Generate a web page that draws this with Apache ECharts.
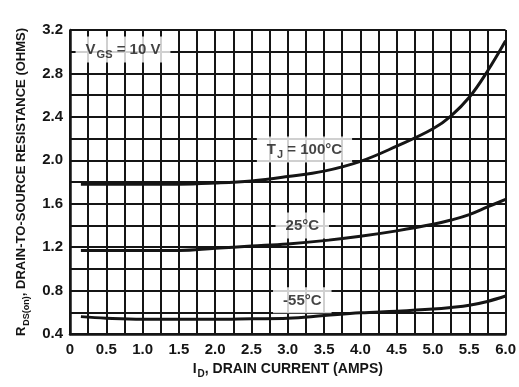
<!DOCTYPE html>
<html>
<head>
<meta charset="utf-8">
<script src="https://cdn.jsdelivr.net/npm/echarts@6/dist/echarts.min.js"></script>
<style>
  html, body { margin: 0; padding: 0; background: #fff; }
  #main { width: 519px; height: 387px; }
</style>
</head>
<body>
<div id="main"></div>
<script>
// drain current (A)
var current = [0.15, 0.5, 1.0, 1.5, 2.0, 2.5, 3.0, 3.5, 4.0, 4.5, 5.0, 5.25, 5.5, 5.75, 6.0];
// R_DS(on) (ohms) per junction temperature
var r100 = [1.78, 1.78, 1.78, 1.78, 1.79, 1.81, 1.85, 1.90, 1.99, 2.13, 2.29, 2.41, 2.58, 2.82, 3.10];
var r25 = [1.17, 1.17, 1.17, 1.17, 1.19, 1.21, 1.23, 1.26, 1.30, 1.35, 1.41, 1.45, 1.50, 1.57, 1.64];
var r55 = [0.56, 0.545, 0.535, 0.535, 0.535, 0.54, 0.545, 0.57, 0.595, 0.61, 0.63, 0.645, 0.665, 0.70, 0.75];

var xTickLabels = ['0', '0.5', '1.0', '1.5', '2.0', '2.5', '3.0', '3.5', '4.0', '4.5', '5.0', '5.5', '6.0'];
var yTickLabels = ['0.4', '0.8', '1.2', '1.6', '2.0', '2.4', '2.8', '3.2'];

// curve labels: [I, R, text]
var notes = [
    [0.73, 3.02, '{n|V}{s|GS}{n| = 10 V}'],
    [3.23, 2.10, '{n|T}{s|J}{n| = 100°C}'],
    [3.2, 1.40, '{n|25°C}'],
    [3.2, 0.71, '{n|-55°C}']
];

var font = "'Liberation Sans', sans-serif";
var ink = '#151515';

function pairs(ys) {
    return current.map(function (x, i) { return [x, ys[i]]; });
}

function curve(name, ys) {
    return {
        name: name,
        type: 'line',
        data: pairs(ys),
        smooth: 0.4,
        symbol: 'none',
        lineStyle: { color: ink, width: 3 },
        z: 3
    };
}

function richText(size) {
    return {
        n: { fontFamily: font, fontSize: size, fontWeight: 'bold', color: ink, lineHeight: size, verticalAlign: 'top' },
        s: { fontFamily: font, fontSize: size - 4, fontWeight: 'bold', color: ink, lineHeight: size - 4, verticalAlign: 'top', padding: [7, 0, 0, 1] }
    };
}

var option = {
    backgroundColor: '#fff',
    animation: false,
    grid: { left: 70, right: 13, top: 30, bottom: 53, show: false },
    xAxis: {
        type: 'value',
        min: 0,
        max: 6,
        interval: 0.25,
        axisLine: { show: true, lineStyle: { color: ink, width: 2.5 } },
        axisTick: { show: false },
        splitLine: { show: true, lineStyle: { color: ink, width: 2 } },
        axisLabel: {
            margin: 8,
            color: ink,
            fontFamily: font,
            fontSize: 15,
            fontWeight: 'bold',
            showMinLabel: true,
            showMaxLabel: true,
            formatter: function (v) {
                var k = Math.round(v * 4);
                return k % 2 === 0 ? xTickLabels[k / 2] : '';
            }
        },
        name: '{n|I}{s|D}{n|, DRAIN CURRENT (AMPS)}',
        nameLocation: 'middle',
        nameGap: 28,
        nameTextStyle: { rich: richText(14) }
    },
    yAxis: {
        type: 'value',
        min: 0.4,
        max: 3.2,
        interval: 0.2,
        axisLine: { show: true, lineStyle: { color: ink, width: 2.5 } },
        axisTick: { show: false },
        splitLine: { show: true, lineStyle: { color: ink, width: 2 } },
        axisLabel: {
            margin: 7,
            color: ink,
            fontFamily: font,
            fontSize: 15,
            fontWeight: 'bold',
            showMinLabel: true,
            showMaxLabel: true,
            formatter: function (v) {
                var k = Math.round((v - 0.4) / 0.2);
                return k % 2 === 0 ? yTickLabels[k / 2] : '';
            }
        },
        name: '{n|R}{s|DS(on)}{n|, DRAIN-TO-SOURCE RESISTANCE (OHMS)}',
        nameLocation: 'middle',
        nameGap: 40,
        nameRotate: 90,
        nameTextStyle: { rich: richText(13) }
    },
    series: [
        curve('100', r100),
        curve('25', r25),
        curve('-55', r55),
        {
            type: 'scatter',
            symbolSize: 0,
            z: 5,
            data: notes.map(function (d) { return { value: [d[0], d[1]], text: d[2] }; }),
            label: {
                show: true,
                position: 'inside',
                backgroundColor: '#fff',
                padding: [6, 10, 5, 10],
                rich: richText(15),
                formatter: function (p) { return p.data.text; }
            }
        }
    ]
};

var myChart = echarts.init(document.getElementById('main'));
myChart.setOption(option);
</script>
</body>
</html>
